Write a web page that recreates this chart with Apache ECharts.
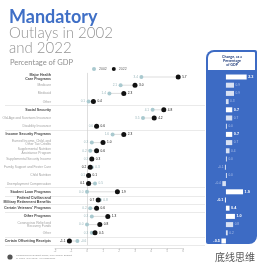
<!DOCTYPE html>
<html>
<head>
<meta charset="utf-8">
<script src="https://cdn.jsdelivr.net/npm/echarts@6/dist/echarts.min.js"></script>
<style>
  html, body { margin: 0; padding: 0; background: #fff; }
  #chart { width: 265px; height: 269px; }
</style>
</head>
<body>
<div id="chart"></div>
<script>
// rows of the chart, top to bottom
var categories = [
  'Major Health\nCare Programs', 'Medicare', 'Medicaid', 'Other',
  'Social Security', 'Old-Age and Survivors Insurance', 'Disability Insurance',
  'Income Security Programs', 'Earned Income, Child, and\nOther Tax Credits',
  'Supplemental Nutrition\nAssistance Program', 'Supplemental Security Income',
  'Family Support and Foster Care', 'Child Nutrition', 'Unemployment Compensation',
  'Student Loan Programs', 'Federal Civilian and\nMilitary Retirement Benefits',
  "Certain Veterans' Programs", 'Other Programs',
  'Coronavirus Relief and\nRecovery Funds', 'Other', 'Certain Offsetting Receipts'
];
var groupRows = [0, 4, 7, 14, 15, 16, 17, 20];
var separatorsBefore = [4, 7, 14, 15, 16, 17, 20];

var v2002 = [3.4, 2.1, 1.4, 0.1, 4.1, 3.5, 0.6, 1.6, 0.3, 0.2, 0.3, 0.3, 0.1, 0.5, 0.0, 0.8, 0.2, 0.3, 0.0, 0.3, -0.6];
var v2022 = [5.7, 3.0, 2.3, 0.4, 4.8, 4.2, 0.6, 2.3, 1.0, 0.6, 0.3, 0.2, 0.1, 0.1, 1.9, 0.7, 0.6, 1.3, 0.8, 0.5, -1.1];
var change = [2.3, 0.9, 0.9, 0.3, 0.7, 0.7, 0.0, 0.7, 0.7, 0.4, 0.0, -0.1, 0.0, -0.4, 1.9, -0.1, 0.4, 1.0, 0.8, 0.2, -0.5];

var axisMin = -2, axisMax = 6;

var blue = '#3d6bc4';
var light = '#a9c9cf';

function isGroup(i) { return groupRows.indexOf(i) >= 0; }

var chart = echarts.init(document.getElementById('chart'), null, { renderer: 'canvas' });

var labelData = categories.map(function (c, i) {
  return {
    value: [-2.25, i],
    label: isGroup(i)
      ? { color: '#111', fontWeight: 'bold', fontSize: 3.6, lineHeight: 4 }
      : { color: '#8a8a8a', fontSize: 3.3, lineHeight: 3.8 }
  };
});

var d2002 = v2002.map(function (v, i) {
  return { value: [v, i], label: { position: v <= v2022[i] ? 'left' : 'right' } };
});
var d2022 = v2022.map(function (v, i) {
  return { value: [v, i], label: { position: v >= v2002[i] ? 'right' : 'left' } };
});
var dChange = change.map(function (v, i) {
  return {
    value: [v, i],
    itemStyle: { color: '#fff', opacity: isGroup(i) ? 1 : 0.8 },
    label: isGroup(i)
      ? { position: v < 0 ? 'left' : 'right', color: '#fff', fontWeight: 'bold', fontSize: 3.8 }
      : { position: v < 0 ? 'left' : 'right', color: '#c9d6f2', fontSize: 3.2 }
  };
});

var option = {
  animation: false,
  legend: {
    data: ['2002', '2022'],
    left: 92, top: 67, padding: 0,
    itemWidth: 4, itemHeight: 4, itemGap: 5,
    textStyle: { fontSize: 3.5, color: '#666', padding: [0, 0, 0, -2] }
  },
  grid: [
    { left: 5, right: 60, top: 72.9, height: 172.2 },
    { left: 55, width: 128, top: 247, height: 1 },
    { left: 207, width: 50, top: 72.9, height: 172.2 }
  ],
  xAxis: [
    { gridIndex: 0, type: 'value', min: -5.125, max: 7.375, show: false },
    {
      gridIndex: 1, type: 'value', min: axisMin, max: axisMax, interval: 1,
      axisLine: { lineStyle: { color: '#c8c8c8', width: 0.6 } },
      axisTick: { length: 2, lineStyle: { color: '#c8c8c8', width: 0.6 } },
      axisLabel: { fontSize: 3, color: '#aaa', margin: 2 },
      splitLine: { show: false }
    },
    { gridIndex: 2, type: 'value', min: -2.1, max: 3.45, show: false }
  ],
  yAxis: [
    {
      gridIndex: 0, type: 'category', data: categories, inverse: true,
      axisLine: { show: false }, axisTick: { show: false }, axisLabel: { show: false },
      splitLine: {
        show: true,
        interval: function (index) { return separatorsBefore.indexOf(index) >= 0; },
        lineStyle: { color: '#dcdcdc', width: 0.6 }
      }
    },
    { gridIndex: 1, type: 'value', min: 0, max: 1, show: false },
    { gridIndex: 2, type: 'category', data: categories, inverse: true, show: false }
  ],
  graphic: [
    { type: 'text', x: 9, y: 17, style: { text: 'Mandatory', font: 'bold 18px Lato', fill: '#3f6fc6', textVerticalAlign: 'middle' } },
    { type: 'text', x: 9, y: 33.5, style: { text: 'Outlays in 2002', font: '300 15px Lato', fill: '#949494', textVerticalAlign: 'middle' } },
    { type: 'text', x: 9, y: 48.5, style: { text: 'and 2022', font: '300 15px Lato', fill: '#949494', textVerticalAlign: 'middle' } },
    { type: 'text', x: 10, y: 63, style: { text: 'Percentage of GDP', font: '7.5px Lato', fill: '#8f8f8f', textVerticalAlign: 'middle' } },
    { type: 'rect', z: -10, shape: { x: 206, y: 50, width: 51, height: 194, r: [8, 2, 8, 2] }, style: { fill: blue } },
    { type: 'rect', z: -9, shape: { x: 208, y: 52, width: 47, height: 18, r: [6, 1, 0, 0] }, style: { fill: '#fff' } },
    { type: 'text', z: -8, x: 232, y: 61, style: { text: 'Change, as a\nPercentage\nof GDP', font: 'bold 3.6px Lato', lineHeight: 4, fill: '#1f3b7a', textAlign: 'center', textVerticalAlign: 'middle' } },
    { type: 'circle', shape: { cx: 10, cy: 257, r: 2.6 }, style: { fill: '#555' } },
    { type: 'text', x: 16, y: 257, style: { text: 'Congressional Budget Office, The Federal Budget\nin Fiscal Year 2022: An Infographic', font: '2.6px Lato', lineHeight: 3, fill: '#999', textVerticalAlign: 'middle' } },
    { type: 'text', x: 255, y: 257, style: { text: '底线思维', font: '10px "Noto Sans CJK SC"', fill: '#555', textAlign: 'right', textVerticalAlign: 'middle' } }
  ],
  series: [
    {
      type: 'scatter', xAxisIndex: 0, yAxisIndex: 0, symbolSize: 0, silent: true,
      data: labelData,
      label: { show: true, position: 'left', distance: 0, align: 'right', formatter: function (p) { return categories[p.data.value[1]]; } }
    },
    {
      type: 'custom', xAxisIndex: 0, yAxisIndex: 0, silent: true,
      dimensions: ['from', 'to', 'row'],
      data: categories.map(function (c, i) { return [v2002[i], v2022[i], i]; }),
      encode: { x: ['from', 'to'], y: 'row' },
      renderItem: function (params, api) {
        var a = api.coord([api.value(0), api.value(2)]);
        var b = api.coord([api.value(1), api.value(2)]);
        return { type: 'line', shape: { x1: a[0], y1: a[1], x2: b[0], y2: b[1] }, style: { stroke: '#c6c6c6', lineWidth: 0.6 } };
      }
    },
    {
      name: '2002', type: 'scatter', xAxisIndex: 0, yAxisIndex: 0, symbolSize: 4,
      itemStyle: { color: light, opacity: 1 },
      data: d2002,
      label: { show: true, distance: 1.5, fontSize: 3.2, color: '#9ab6bb', formatter: function (p) { return p.data.value[0].toFixed(1); } },
      markLine: {
        silent: true, symbol: 'none', label: { show: false }, z: 0,
        lineStyle: { color: '#d0d0d0', width: 0.7, type: 'solid' },
        data: [{ xAxis: 0 }]
      }
    },
    {
      name: '2022', type: 'scatter', xAxisIndex: 0, yAxisIndex: 0, symbolSize: 5,
      itemStyle: { color: '#111', opacity: 1 },
      data: d2022,
      label: { show: true, distance: 1.5, fontSize: 3.2, color: '#111', formatter: function (p) { return p.data.value[0].toFixed(1); } }
    },
    {
      type: 'bar', xAxisIndex: 2, yAxisIndex: 2, barWidth: 5, barMinHeight: 1,
      data: dChange,
      label: { show: true, distance: 1.5, formatter: function (p) { return p.data.value[0].toFixed(1); } }
    }
  ]
};

chart.setOption(option);
</script>
</body>
</html>
